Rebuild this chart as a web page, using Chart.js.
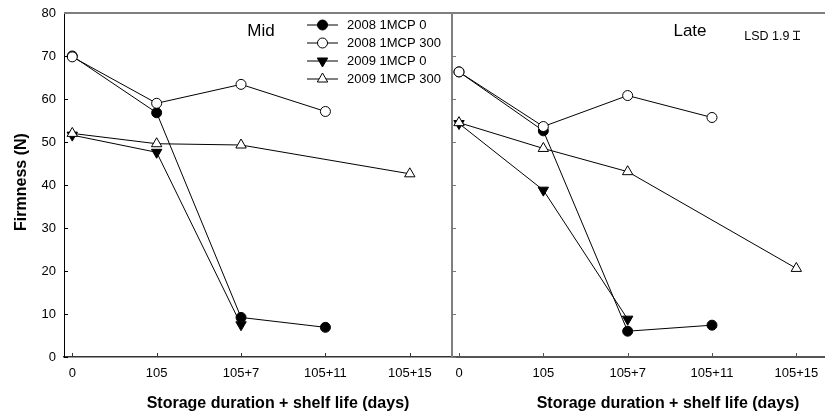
<!DOCTYPE html>
<html><head><meta charset="utf-8">
<script src="https://cdn.jsdelivr.net/npm/chart.js@4"></script>
<style>
html,body{margin:0;padding:0;background:#fff;}
#wrap{position:relative;width:825px;height:414px;overflow:hidden;background:#fff;}
canvas{position:absolute;top:0;}
</style>
</head><body>
<div id="wrap">
<canvas id="c1" width="460" height="414" style="left:0;width:460px;height:414px"></canvas>
<canvas id="c2" width="385" height="414" style="left:440px;width:385px;height:414px"></canvas>
</div>
<script>
// ---------------- data ----------------
const categories = ['0', '105', '105+7', '105+11', '105+15'];
const seriesNames = ['2008 1MCP 0', '2008 1MCP 300', '2009 1MCP 0', '2009 1MCP 300'];
const yTickValues = [0, 10, 20, 30, 40, 50, 60, 70, 80];

// Mid harvest
const mid2008_0   = [70.0, 56.8, 9.2, 6.9, null];
const mid2008_300 = [69.8, 59.0, 63.4, 57.1, null];
const mid2009_0   = [51.6, 47.6, 7.5, null, null];
const mid2009_300 = [52.0, 49.6, 49.3, null, 42.6];

// Late harvest
const late2008_0   = [66.3, 52.6, 6.0, 7.4, null];
const late2008_300 = [66.3, 53.6, 60.8, 55.7, null];
const late2009_0   = [54.3, 38.8, 8.8, null, null];
const late2009_300 = [54.5, 48.5, 43.1, null, 20.6];

const lsdValue = 1.9;
const lsdLabel = 'LSD 1.9';
const panelTitles = ['Mid', 'Late'];
const xTitle = 'Storage duration + shelf life (days)';
const yTitle = 'Firmness (N)';

// ---------------- styles ----------------
const FONT = '"Liberation Sans", Arial, Helvetica, sans-serif';
const markerStyles = [
  {pointStyle: 'circle',   radius: 5, rotation: 0,   fill: '#000000'},
  {pointStyle: 'circle',   radius: 5, rotation: 0,   fill: '#ffffff'},
  {pointStyle: 'triangle', radius: 6, rotation: 180, fill: '#000000'},
  {pointStyle: 'triangle', radius: 6, rotation: 0,   fill: '#ffffff'}
];

function makeDatasets(list) {
  return list.map((vals, i) => {
    const s = markerStyles[i];
    const pts = [];
    vals.forEach((v, k) => { if (v !== null) pts.push({x: k, y: v}); });
    return {
      label: seriesNames[i],
      data: pts,
      borderColor: '#000',
      borderWidth: 1,
      backgroundColor: s.fill,
      pointBackgroundColor: s.fill,
      pointBorderColor: '#000',
      pointBorderWidth: 1,
      pointRadius: s.radius,
      pointHoverRadius: s.radius,
      pointStyle: s.pointStyle,
      pointRotation: s.rotation,
      fill: false,
      tension: 0,
      clip: false,
      order: 4 - i
    };
  });
}

function drawMarker(ctx, style, x, y) {
  ctx.save();
  ctx.fillStyle = style.fill;
  ctx.strokeStyle = '#000';
  ctx.lineWidth = 1;
  ctx.beginPath();
  if (style.pointStyle === 'circle') {
    ctx.arc(x, y, style.radius, 0, Math.PI * 2);
  } else {
    let rad = style.rotation * Math.PI / 180;
    const r = style.radius;
    const step = 2 * Math.PI / 3;
    ctx.moveTo(x + Math.sin(rad) * r, y - Math.cos(rad) * r);
    rad += step; ctx.lineTo(x + Math.sin(rad) * r, y - Math.cos(rad) * r);
    rad += step; ctx.lineTo(x + Math.sin(rad) * r, y - Math.cos(rad) * r);
    ctx.closePath();
  }
  ctx.fill();
  ctx.stroke();
  ctx.restore();
}

function line(ctx, x1, y1, x2, y2, color, w) {
  ctx.save();
  ctx.strokeStyle = color; ctx.lineWidth = w;
  ctx.beginPath(); ctx.moveTo(x1, y1); ctx.lineTo(x2, y2); ctx.stroke();
  ctx.restore();
}

function inwardTicks(chart, xColor, yColor) {
  const {ctx, chartArea: a, scales: {x, y}} = chart;
  x.ticks.forEach(t => {
    const px = Math.round(x.getPixelForValue(t.value)) + 0.5;
    line(ctx, px, a.bottom, px, a.bottom - 4, xColor, 1);
  });
  y.ticks.forEach(t => {
    const py = Math.round(y.getPixelForValue(t.value)) + 0.5;
    line(ctx, a.left, py, a.left + 4, py, yColor, 1);
  });
}

function text(ctx, str, x, y, font, align, baseline, rot) {
  ctx.save();
  ctx.fillStyle = '#000';
  ctx.font = font;
  ctx.textAlign = align;
  ctx.textBaseline = baseline;
  ctx.translate(x, y);
  if (rot) ctx.rotate(rot);
  ctx.fillText(str, 0, 0);
  ctx.restore();
}

const leftDecor = {
  id: 'leftDecor',
  afterDraw(chart) {
    const {ctx, chartArea: a} = chart;
    inwardTicks(chart, '#333', '#000');
    line(ctx, a.left, a.top, a.right, a.top, '#7f7f7f', 2);
    line(ctx, a.right, a.top, a.right, a.bottom, '#7f7f7f', 2);
    text(ctx, panelTitles[0], 261, 36, '17px ' + FONT, 'center', 'alphabetic');
    // legend
    const lx = 307, rows = [25, 43, 61, 79];
    seriesNames.forEach((name, i) => {
      const yy = rows[i];
      line(ctx, lx, yy, lx + 31, yy, '#000', 1);
      drawMarker(ctx, markerStyles[i], lx + 15.5, yy);
      text(ctx, name, lx + 40, yy + 0.5, '13px ' + FONT, 'left', 'middle');
    });
    text(ctx, yTitle, 22, 182, 'bold 16px ' + FONT, 'center', 'middle', -Math.PI / 2);
    text(ctx, xTitle, 278, 408, 'bold 16px ' + FONT, 'center', 'alphabetic');
  }
};

const rightDecor = {
  id: 'rightDecor',
  afterDraw(chart) {
    const {ctx, chartArea: a, scales: {x, y}} = chart;
    inwardTicks(chart, '#555', '#777');
    line(ctx, a.left, a.top, a.right, a.top, '#7f7f7f', 2);
    text(ctx, panelTitles[1], 250, 36, '17px ' + FONT, 'center', 'alphabetic');
    // LSD bar drawn on the data scales
    const bx = Math.round(x.getPixelForValue(4)) + 0.5;
    const lsdCenter = 74.8;
    const y1 = y.getPixelForValue(lsdCenter + lsdValue / 2);
    const y2 = y.getPixelForValue(lsdCenter - lsdValue / 2);
    line(ctx, bx, y1, bx, y2, '#000', 1);
    line(ctx, bx - 3.5, y1, bx + 3.5, y1, '#000', 1);
    line(ctx, bx - 3.5, y2, bx + 3.5, y2, '#000', 1);
    text(ctx, lsdLabel, bx - 7, 39.5, '12.5px ' + FONT, 'right', 'alphabetic');
    text(ctx, xTitle, 228, 408, 'bold 16px ' + FONT, 'center', 'alphabetic');
  }
};

function xScale(min, max, borderColor, borderWidth) {
  return {
    type: 'linear', min: min, max: max,
    afterBuildTicks: s => { s.ticks = categories.map((c, i) => ({value: i})); },
    afterFit: s => { s.height = 57; s.paddingLeft = 0; s.paddingRight = 0; },
    grid: {display: true, drawOnChartArea: false, drawTicks: false},
    border: {display: true, color: borderColor, width: borderWidth},
    ticks: {
      padding: 9, color: '#000', autoSkip: false, maxRotation: 0,
      font: {family: FONT, size: 13},
      callback: v => (categories[v] !== undefined ? categories[v] : '')
    }
  };
}

function yScale(width, showLabels, borderColor, borderWidth) {
  return {
    type: 'linear', min: 0, max: 80,
    afterBuildTicks: s => { s.ticks = yTickValues.map(v => ({value: v})); },
    afterFit: s => { s.width = width; s.paddingTop = 0; s.paddingBottom = 0; },
    grid: {display: true, drawOnChartArea: false, drawTicks: false},
    border: {display: true, color: borderColor, width: borderWidth},
    ticks: {display: showLabels, padding: 8, color: '#000', font: {family: FONT, size: 13}}
  };
}

const common = {
  responsive: false,
  animation: false,
  devicePixelRatio: 1,
  events: [],
  plugins: {legend: {display: false}, tooltip: {enabled: false}, title: {display: false}}
};

new Chart(document.getElementById('c1'), {
  type: 'line',
  data: {datasets: makeDatasets([mid2008_0, mid2008_300, mid2009_0, mid2009_300])},
  options: Object.assign({}, common, {
    layout: {autoPadding: false, padding: {left: 0, top: 13, right: 8, bottom: 0}},
    scales: {x: xScale(-0.098, 4.5, '#333', 1.5), y: yScale(64, true, '#000', 1)}
  }),
  plugins: [leftDecor]
});

new Chart(document.getElementById('c2'), {
  type: 'line',
  data: {datasets: makeDatasets([late2008_0, late2008_300, late2009_0, late2009_300])},
  options: Object.assign({}, common, {
    layout: {autoPadding: false, padding: {left: 0, top: 13, right: 0, bottom: 0}},
    scales: {x: xScale(-0.083, 4.34, '#555', 2), y: yScale(12, false, '#7f7f7f', 2)}
  }),
  plugins: [rightDecor]
});
</script>
</body></html>
